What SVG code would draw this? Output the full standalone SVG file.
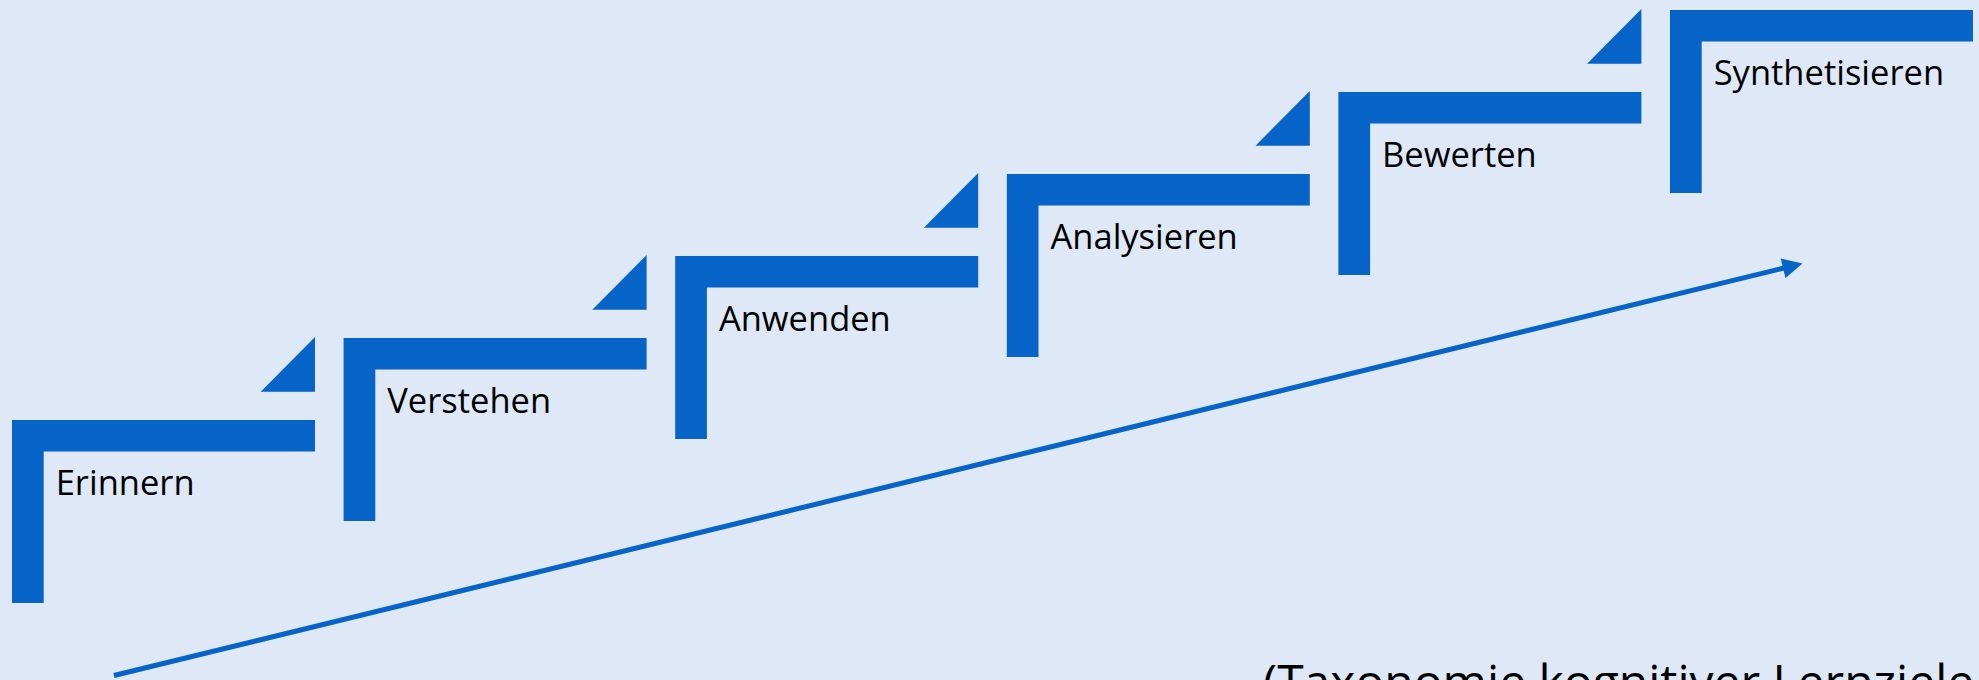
<svg xmlns="http://www.w3.org/2000/svg" width="1979" height="680" viewBox="0 0 1979 680">
<defs>
<style>
.bar{fill:#0663C7;}
.lbl{font-family:"Open Sans","Noto Sans","DejaVu Sans",sans-serif;font-size:34.5px;fill:#000;}
.note{font-family:"Open Sans","Noto Sans","DejaVu Sans",sans-serif;font-size:48px;fill:#000;}
.conn{stroke:#0663C7;stroke-width:5;fill:none;}
</style>
<path id="step" d="M0,0 H303 V31.5 H31.7 V183 H0 Z"/>
<path id="tri" d="M303,-83 V-28.3 H248.7 Z"/>
</defs>
<rect width="1979" height="680" fill="#DEE8F7"/>
<g id="node-erinnern" transform="translate(12,420)">
<use href="#step" class="bar"/><use href="#tri" class="bar"/>
<text class="lbl" x="43.7" y="75">Erinnern</text>
</g>
<g id="node-verstehen" transform="translate(343.6,338)">
<use href="#step" class="bar"/><use href="#tri" class="bar"/>
<text class="lbl" x="43.7" y="75">Verstehen</text>
</g>
<g id="node-anwenden" transform="translate(675.2,256)">
<use href="#step" class="bar"/><use href="#tri" class="bar"/>
<text class="lbl" x="43.7" y="75">Anwenden</text>
</g>
<g id="node-analysieren" transform="translate(1006.8,174)">
<use href="#step" class="bar"/><use href="#tri" class="bar"/>
<text class="lbl" x="43.7" y="75">Analysieren</text>
</g>
<g id="node-bewerten" transform="translate(1338.4,92)">
<use href="#step" class="bar"/><use href="#tri" class="bar"/>
<text class="lbl" x="43.7" y="75">Bewerten</text>
</g>
<g id="node-synthetisieren" transform="translate(1670,10)">
<use href="#step" class="bar"/>
<text class="lbl" x="43.7" y="75">Synthetisieren</text>
</g>
<g id="connectors">
<line class="conn" x1="114" y1="675.5" x2="1786" y2="267.5"/>
<polygon class="bar" points="1802.5,263.5 1785.5,277.9 1780.7,258.5"/>
</g>
<text class="note" x="1263" y="699">(Taxonomie kognitiver Lernziele</text>
</svg>
